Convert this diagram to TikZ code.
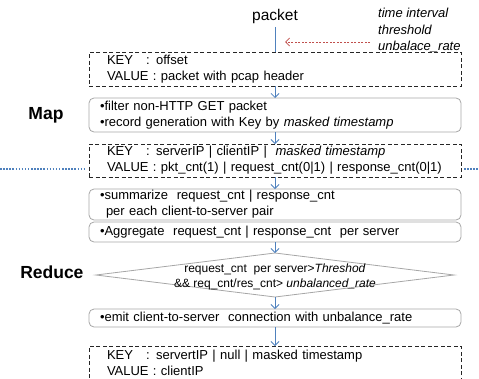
\documentclass[tikz,border=0pt]{standalone}
\usepackage{fontspec}
\setmainfont{Liberation Sans}
\usetikzlibrary{arrows.meta,positioning,shapes.geometric}
\definecolor{flowblue}{RGB}{79,129,189}
\definecolor{edgegray}{RGB}{166,166,166}
\definecolor{paramred}{RGB}{192,80,77}
\newcommand{\keyname}{\makebox[39pt][l]{KEY}}
\begin{document}
\begin{tikzpicture}[
    x=1pt, y=1pt,
    font=\fontsize{13}{16}\selectfont,
    kv/.style={draw=black!85, dash pattern=on 4pt off 2.5pt, line width=0.8pt, align=left, text width=336pt, inner xsep=18pt, inner ysep=0pt, outer sep=0pt},
    box/.style={draw=edgegray, rounded corners=5pt, line width=0.8pt, align=left, text width=350pt, inner xsep=11pt, inner ysep=0pt, outer sep=0pt},
    cond/.style={draw=edgegray, diamond, line width=0.8pt, minimum width=358pt, minimum height=44pt, inner sep=0pt, outer sep=0pt},
    lbl/.style={font=\fontsize{17.5}{20}\selectfont\bfseries},
    param/.style={font=\fontsize{13}{16.5}\selectfont\itshape, align=left, inner xsep=8pt},
    arr/.style={-{Straight Barb[length=4pt,width=8pt]}, draw=flowblue, line width=0.8pt},
    redarr/.style={-{Straight Barb[length=4pt,width=8pt]}, draw=paramred, line width=0.8pt, dash pattern=on 2pt off 1.5pt},
    sep/.style={draw=flowblue, line width=1.6pt, dash pattern=on 1.5pt off 1.6pt}
]
\path[use as bounding box, clip] (0,0) rectangle (479,-378);

\node[font=\fontsize{15.5}{18}\selectfont] (pkt) at (275,-16) {packet};
\node[param, anchor=north west] (par) at (370,-5) {time interval\\threshold\\unbalace\_rate};

\node[kv, anchor=north, minimum height=34pt] (kv1) at (275,-52) {\keyname: offset\\VALUE : packet with pcap header};
\node[box, below=12pt of kv1, minimum height=34pt] (map) {\textbullet filter non-HTTP GET packet\\\textbullet record generation with Key by \textit{masked timestamp}};
\node[kv, below=12pt of map, minimum height=33pt] (kv2) {\keyname: serverIP | clientIP |\ \ \textit{masked timestamp}\\VALUE : pkt\_cnt(1) | request\_cnt(0|1) | response\_cnt(0|1)};
\node[box, below=12pt of kv2, minimum height=31pt] (sum) {\textbullet summarize\ \ request\_cnt | response\_cnt\\\hspace*{6pt}per each client-to-server pair};
\node[box, below=2pt of sum, minimum height=20pt] (agg) {\textbullet Aggregate\ \ request\_cnt | response\_cnt\ \ per server};
\node[cond, below=11pt of agg] (cond) {};
\node[font=\fontsize{12}{15}\selectfont, align=center] (condtxt) at ([yshift=-2pt]cond.center) {request\_cnt\ \ per server>\textit{Threshod}\\\&\& req\_cnt/res\_cnt> \textit{unbalanced\_rate}};
\node[box, below=12pt of cond, minimum height=18pt] (emit) {\textbullet emit client-to-server\ \ connection with unbalance\_rate};
\node[kv, below=19pt of emit, minimum height=34pt] (kv3) {\keyname: servertIP | null | masked timestamp\\VALUE : clientIP};

\node[lbl, left=22pt of map] (maplbl) {Map};
\node[lbl, left=9pt of cond, yshift=3pt] (redlbl) {Reduce};

\coordinate (partip) at (285,-42);
\coordinate (sepL) at (0,-169);
\coordinate (sepR) at (479,-169);

\draw[draw=flowblue, line width=0.8pt] (pkt) -- (kv1);
\draw[redarr] (partip -| par.west) -- (partip);
\draw[arr] (kv1) -- (map);
\draw[arr] (map) -- (kv2);
\draw[arr] (kv2) -- (sum);
\draw[arr] (agg) -- (cond);
\draw[arr] (cond) -- (emit);
\draw[arr] (emit) -- (kv3);
\draw[sep, shorten >=3pt] (sepL) -- (sepL -| kv2.west);
\draw[sep, shorten <=3pt] (sepR -| kv2.east) -- (sepR);
\end{tikzpicture}
\end{document}
